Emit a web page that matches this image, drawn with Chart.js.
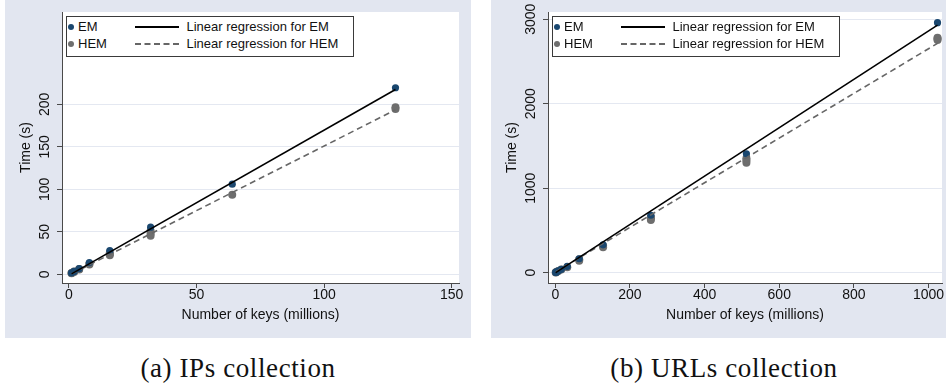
<!DOCTYPE html>
<html>
<head>
<meta charset="utf-8">
<script src="https://cdn.jsdelivr.net/npm/chart.js@4.4.1/dist/chart.umd.min.js"></script>
<style>
html,body{margin:0;padding:0;background:#fff;}
body{width:946px;height:388px;overflow:hidden;position:relative;font-family:"Liberation Sans",Arial,sans-serif;}
.panel{position:absolute;top:0;height:338px;background:#e2e6f0;}
.panel canvas{display:block;}
.legend{position:absolute;top:16px;height:41px;width:288px;background:#fff;border:1px solid #3a3a3a;box-sizing:border-box;font-size:13px;color:#111;}
.legend .dot{position:absolute;width:6px;height:6px;border-radius:50%;}
.legend .txt{position:absolute;line-height:14px;white-space:nowrap;}
.legend .ln{position:absolute;width:44px;height:0;}
.caption{position:absolute;top:353px;font-family:"Liberation Serif","Times New Roman",serif;font-size:27px;letter-spacing:0.6px;color:#111;white-space:nowrap;transform:translateX(-50%);}
</style>
</head>
<body>
<div class="panel" style="left:5px;width:466px;"><canvas id="c1" width="466" height="338"></canvas></div>
<div class="panel" style="left:491px;width:455px;"><canvas id="c2" width="455" height="338"></canvas></div>

<div class="legend" id="lg1" style="left:66px;"></div>
<div class="legend" id="lg2" style="left:552px;"></div>

<div class="caption" style="left:238px;">(a) IPs collection</div>
<div class="caption" style="left:724px;">(b) URLs collection</div>

<script>
// ---------- Data: (a) IPs collection ----------
const ipKeys = [1, 2, 4, 8, 16, 32, 64, 128];
const ipEM   = [1.7, 3.4, 6.8, 13.8, 28, 55.5, 106, 219.5];
const ipHEMKeys = [1, 1, 2, 2, 4, 4, 8, 8, 16, 16, 16, 32, 32, 32, 64, 128, 128];
const ipHEM     = [1.2, 1.6, 2.8, 3.2, 5.8, 6.3, 11.5, 12.5, 22.5, 24, 25.5, 45.5, 48, 51, 93.5, 194.5, 196.5];
const ipFitKeys = [1, 128];
const ipFitEM   = [0.5, 217.5];
const ipFitHEM  = [0.5, 193.5];
const ipXTicks = [0, 50, 100, 150];
const ipYTicks = [0, 50, 100, 150, 200];

// ---------- Data: (b) URLs collection ----------
const urlKeys = [1, 2, 4, 8, 16, 32, 64, 128, 256, 512, 1024];
const urlEM   = [2.8, 5.6, 11, 22, 40, 75, 165, 330, 680, 1408, 2960];
const urlHEMKeys = [1, 2, 4, 8, 16, 32, 64, 64, 128, 128, 256, 256, 256, 512, 512, 512, 1024, 1024, 1024];
const urlHEM     = [2.5, 5, 10, 20, 38, 65, 140, 160, 300, 320, 625, 645, 660, 1300, 1330, 1355, 2755, 2770, 2780];
const urlFitKeys = [1, 1024];
const urlFitEM   = [0, 2930];
const urlFitHEM  = [10, 2715];
const urlXTicks = [0, 200, 400, 600, 800, 1000];
const urlYTicks = [0, 1000, 2000, 3000];

const seriesNames = ['EM', 'HEM', 'Linear regression for EM', 'Linear regression for HEM'];
const xTitle = 'Number of keys (millions)';
const yTitle = 'Time (s)';

// ---------- Styles ----------
const EM_COLOR = '#1a476f';
const HEM_COLOR = '#6e6e6e';
const FIT_EM_COLOR = '#000000';
const FIT_HEM_COLOR = '#666666';
const AXIS_COLOR = '#4a4a4a';
const GRID_COLOR = '#e4e8f1';
const TEXT_COLOR = '#111111';
const FONT = '"Liberation Sans", Arial, sans-serif';

const pts = (xs, ys) => xs.map((x, i) => ({x: x, y: ys[i]}));

const plotBg = {
  id: 'plotBg',
  beforeDraw(chart) {
    const {ctx, chartArea: a} = chart;
    ctx.save();
    ctx.fillStyle = '#ffffff';
    ctx.fillRect(a.left, a.top, a.right - a.left, a.bottom - a.top);
    ctx.restore();
  }
};

const rotYLabels = {
  id: 'rotYLabels',
  afterDraw(chart) {
    const {ctx} = chart;
    const y = chart.scales.y;
    ctx.save();
    ctx.font = '14px ' + FONT;
    ctx.fillStyle = TEXT_COLOR;
    ctx.textAlign = 'center';
    ctx.textBaseline = 'middle';
    y.ticks.forEach(t => {
      const py = y.getPixelForValue(t.value);
      ctx.save();
      ctx.translate(40.5, py);
      ctx.rotate(-Math.PI / 2);
      ctx.fillText(String(t.value), 0, 0);
      ctx.restore();
    });
    ctx.restore();
  }
};

function makeChart(id, o) {
  return new Chart(document.getElementById(id), {
    type: 'scatter',
    data: {
      datasets: [
        {label: seriesNames[2], type: 'line', data: pts(o.fitKeys, o.fitEM), borderColor: FIT_EM_COLOR, borderWidth: 1.6, pointRadius: 0, fill: false, tension: 0},
        {label: seriesNames[3], type: 'line', data: pts(o.fitKeys, o.fitHEM), borderColor: FIT_HEM_COLOR, borderWidth: 1.6, borderDash: [6, 4], pointRadius: 0, fill: false, tension: 0},
        {label: seriesNames[0], data: pts(o.keys, o.em), backgroundColor: EM_COLOR, borderColor: EM_COLOR, borderWidth: 0, pointRadius: 3.6},
        {label: seriesNames[1], data: pts(o.hemKeys, o.hem), backgroundColor: HEM_COLOR, borderColor: HEM_COLOR, borderWidth: 0, pointRadius: 4}
      ]
    },
    options: {
      responsive: false,
      animation: false,
      devicePixelRatio: 1,
      layout: {padding: {top: 12, right: o.padRight, left: 0, bottom: 0}},
      plugins: {legend: {display: false}, tooltip: {enabled: false}},
      scales: {
        x: {
          type: 'linear', min: o.xMin, max: o.xMax,
          afterBuildTicks: s => { s.ticks = o.xTicks.map(v => ({value: v})); },
          afterFit: s => { s.height = 55; },
          grid: {drawOnChartArea: false, drawTicks: true, tickLength: 5, tickColor: AXIS_COLOR, tickWidth: 1},
          border: {display: true, color: AXIS_COLOR, width: 1},
          ticks: {color: TEXT_COLOR, font: {family: FONT, size: 14, lineHeight: 1}, padding: 0, maxRotation: 0, autoSkip: false, callback: v => String(v)},
          title: {display: true, text: xTitle, color: TEXT_COLOR, font: {family: FONT, size: 14, lineHeight: 1}, padding: {top: 0, bottom: 16}}
        },
        y: {
          type: 'linear', min: o.yMin, max: o.yMax,
          afterBuildTicks: s => { s.ticks = o.yTicks.map(v => ({value: v})); },
          afterFit: s => { s.width = 57; },
          grid: {drawOnChartArea: true, color: GRID_COLOR, lineWidth: 1, drawTicks: true, tickLength: 5, tickColor: AXIS_COLOR, tickWidth: 1},
          border: {display: true, color: AXIS_COLOR, width: 1},
          ticks: {display: false},
          title: {display: true, text: yTitle, color: TEXT_COLOR, font: {family: FONT, size: 14, lineHeight: 1}, padding: {top: 14, bottom: 0}}
        }
      }
    },
    plugins: [plotBg, rotYLabels]
  });
}

makeChart('c1', {
  keys: ipKeys, em: ipEM, hemKeys: ipHEMKeys, hem: ipHEM,
  fitKeys: ipFitKeys, fitEM: ipFitEM, fitHEM: ipFitHEM,
  xTicks: ipXTicks, yTicks: ipYTicks,
  xMin: -2.74, xMax: 152.9, yMin: -10.2, yMax: 308.6, padRight: 12
});
makeChart('c2', {
  keys: urlKeys, em: urlEM, hemKeys: urlHEMKeys, hem: urlHEM,
  fitKeys: urlFitKeys, fitEM: urlFitEM, fitHEM: urlFitHEM,
  xTicks: urlXTicks, yTicks: urlYTicks,
  xMin: -19.6, xMax: 1036, yMin: -122, yMax: 3086, padRight: 4
});

function buildLegend(id) {
  const el = document.getElementById(id);
  const rows = [
    {dot: EM_COLOR, name: seriesNames[0], line: '2px solid ' + FIT_EM_COLOR, fit: seriesNames[2], cy: 10.5},
    {dot: HEM_COLOR, name: seriesNames[1], line: '2px dashed ' + FIT_HEM_COLOR, fit: seriesNames[3], cy: 28}
  ];
  rows.forEach(r => {
    const d = document.createElement('div');
    d.className = 'dot'; d.style.background = r.dot;
    d.style.left = (5 - 1 - 3) + 'px'; d.style.top = (r.cy - 3 - 1) + 'px';
    el.appendChild(d);
    const t = document.createElement('div');
    t.className = 'txt'; t.textContent = r.name;
    t.style.left = (12 - 1) + 'px'; t.style.top = (r.cy - 7 - 1) + 'px';
    el.appendChild(t);
    const l = document.createElement('div');
    l.className = 'ln'; l.style.borderTop = r.line;
    l.style.left = (69 - 1) + 'px'; l.style.top = (r.cy - 1 - 1) + 'px';
    el.appendChild(l);
    const f = document.createElement('div');
    f.className = 'txt'; f.textContent = r.fit;
    f.style.left = (120.5 - 1) + 'px'; f.style.top = (r.cy - 7 - 1) + 'px';
    el.appendChild(f);
  });
}
buildLegend('lg1');
buildLegend('lg2');
</script>
</body>
</html>
